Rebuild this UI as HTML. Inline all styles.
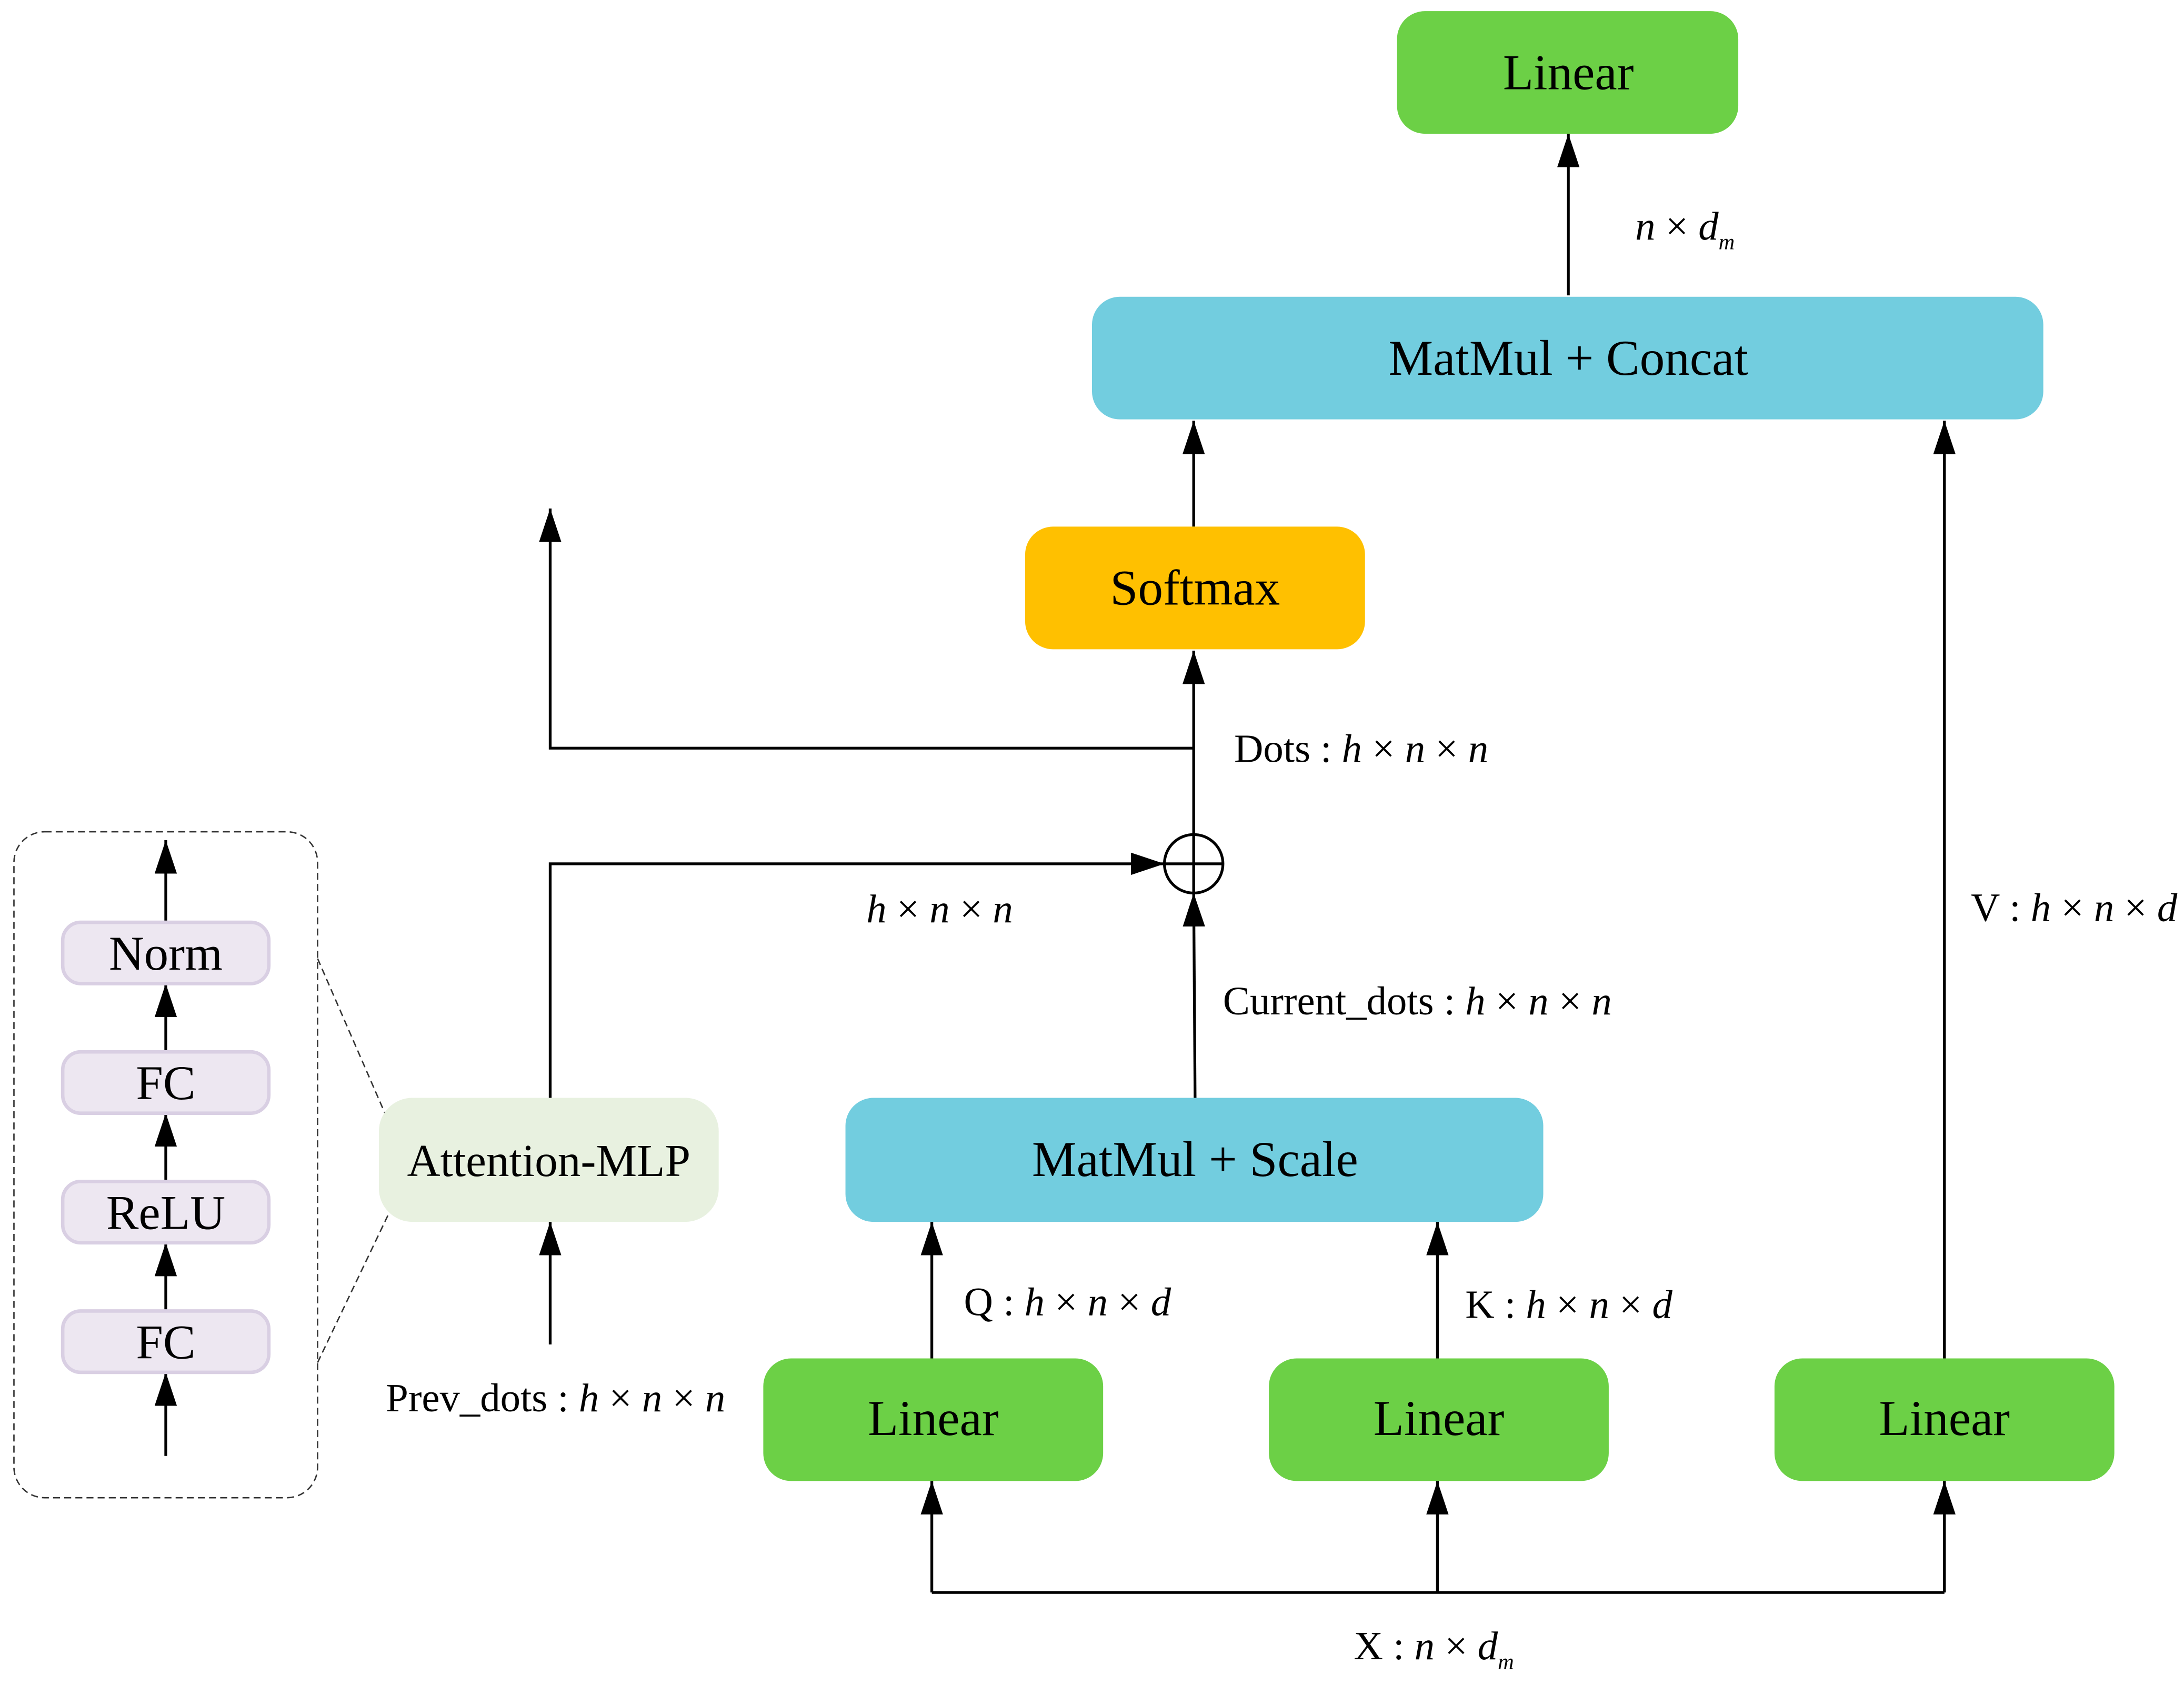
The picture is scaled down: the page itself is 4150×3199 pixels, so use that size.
<!DOCTYPE html>
<html><head><meta charset="utf-8"><style>html,body{margin:0;padding:0;background:#fff}svg{display:block}</style></head>
<body>
<svg width="4150" height="3199" viewBox="0 0 1568 1208.7" xmlns="http://www.w3.org/2000/svg" font-family="'Liberation Serif', serif">
<defs>
<marker id="a" markerWidth="24" markerHeight="16" refX="24" refY="8" viewBox="0 0 24 16" markerUnits="userSpaceOnUse" orient="auto">
<path d="M0,0 L24,8 L0,16 z" fill="#000"/></marker>
</defs>
<g stroke="#000" stroke-width="2" fill="none">
<line x1="1126" y1="212" x2="1126" y2="96" marker-end="url(#a)"/>
<line x1="857" y1="378" x2="857" y2="302" marker-end="url(#a)"/>
<line x1="1396" y1="975" x2="1396" y2="302" marker-end="url(#a)"/>
<line x1="857" y1="599" x2="857" y2="467" marker-end="url(#a)"/>
<polyline points="857,537 395,537 395,365" marker-end="url(#a)"/>
<polyline points="395,788 395,620 836,620" marker-end="url(#a)"/>
<line x1="858" y1="788" x2="857" y2="641" marker-end="url(#a)"/>
<line x1="395" y1="965" x2="395" y2="877" marker-end="url(#a)"/>
<line x1="669" y1="975" x2="669" y2="877" marker-end="url(#a)"/>
<line x1="1032" y1="975" x2="1032" y2="877" marker-end="url(#a)"/>
<polyline points="669,1143 1396,1143"/>
<line x1="669" y1="1143" x2="669" y2="1063" marker-end="url(#a)"/>
<line x1="1032" y1="1143" x2="1032" y2="1063" marker-end="url(#a)"/>
<line x1="1396" y1="1143" x2="1396" y2="1063" marker-end="url(#a)"/>
<line x1="119" y1="1045" x2="119" y2="985" marker-end="url(#a)"/>
<line x1="119" y1="941" x2="119" y2="892" marker-end="url(#a)"/>
<line x1="119" y1="848" x2="119" y2="799" marker-end="url(#a)"/>
<line x1="119" y1="755" x2="119" y2="706" marker-end="url(#a)"/>
<line x1="119" y1="662" x2="119" y2="603" marker-end="url(#a)"/>
<circle cx="857" cy="620" r="21"/>
<line x1="836" y1="620" x2="878" y2="620"/>
<line x1="857" y1="599" x2="857" y2="641"/>
</g>
<g stroke="#333" stroke-width="1" stroke-dasharray="5,3" fill="none">
<rect x="10" y="597" width="218" height="478" rx="22"/>
<line x1="228" y1="688" x2="282" y2="812"/>
<line x1="228" y1="978" x2="282" y2="865"/>
</g>
<g>
<rect x="1003" y="8" width="245" height="88" rx="20" fill="#6CD046"/>
<rect x="784" y="213" width="683" height="88" rx="20" fill="#72CDDF"/>
<rect x="736" y="378" width="244" height="88" rx="20" fill="#FFC000"/>
<rect x="272" y="788" width="244" height="89" rx="24" fill="#E8F1E0"/>
<rect x="607" y="788" width="501" height="89" rx="20" fill="#72CDDF"/>
<rect x="548" y="975" width="244" height="88" rx="20" fill="#6CD046"/>
<rect x="911" y="975" width="244" height="88" rx="20" fill="#6CD046"/>
<rect x="1274" y="975" width="244" height="88" rx="20" fill="#6CD046"/>
<g fill="#EDE7F1" stroke="#D9CFE3" stroke-width="2.5">
<rect x="45" y="662" width="148" height="44" rx="13"/>
<rect x="45" y="755" width="148" height="44" rx="13"/>
<rect x="45" y="848" width="148" height="44" rx="13"/>
<rect x="45" y="941" width="148" height="44" rx="13"/>
</g>
</g>
<g fill="#000" font-size="36" text-anchor="middle">
<text x="1126" y="64">Linear</text>
<text x="1126" y="269">MatMul + Concat</text>
<text x="858" y="434">Softmax</text>
<text x="858" y="844">MatMul + Scale</text>
<text x="670" y="1030">Linear</text>
<text x="1033" y="1030">Linear</text>
<text x="1396" y="1030">Linear</text>
<text x="394" y="844" font-size="33">Attention-MLP</text>
<text x="119" y="696" font-size="35">Norm</text>
<text x="119" y="789" font-size="35">FC</text>
<text x="119" y="882" font-size="35">ReLU</text>
<text x="119" y="975" font-size="35">FC</text>
</g>
<g fill="#000" font-size="29" xml:space="preserve">
<text x="1174" y="172"><tspan font-style="italic">n</tspan> × <tspan font-style="italic">d</tspan><tspan font-style="italic" font-size="16" dy="7">m</tspan></text>
<text x="886" y="547">Dots : <tspan font-style="italic">h</tspan> × <tspan font-style="italic">n</tspan> × <tspan font-style="italic">n</tspan></text>
<text x="622" y="662"><tspan font-style="italic">h</tspan> × <tspan font-style="italic">n</tspan> × <tspan font-style="italic">n</tspan></text>
<text x="878" y="728">Current_dots : <tspan font-style="italic">h</tspan> × <tspan font-style="italic">n</tspan> × <tspan font-style="italic">n</tspan></text>
<text x="1415" y="661">V : <tspan font-style="italic">h</tspan> × <tspan font-style="italic">n</tspan> × <tspan font-style="italic">d</tspan></text>
<text x="692" y="944">Q : <tspan font-style="italic">h</tspan> × <tspan font-style="italic">n</tspan> × <tspan font-style="italic">d</tspan></text>
<text x="1052" y="946">K : <tspan font-style="italic">h</tspan> × <tspan font-style="italic">n</tspan> × <tspan font-style="italic">d</tspan></text>
<text x="277" y="1013">Prev_dots : <tspan font-style="italic">h</tspan> × <tspan font-style="italic">n</tspan> × <tspan font-style="italic">n</tspan></text>
<text x="972" y="1191">X : <tspan font-style="italic">n</tspan> × <tspan font-style="italic">d</tspan><tspan font-style="italic" font-size="16" dy="7">m</tspan></text>
</g>
</svg>
</body></html>
